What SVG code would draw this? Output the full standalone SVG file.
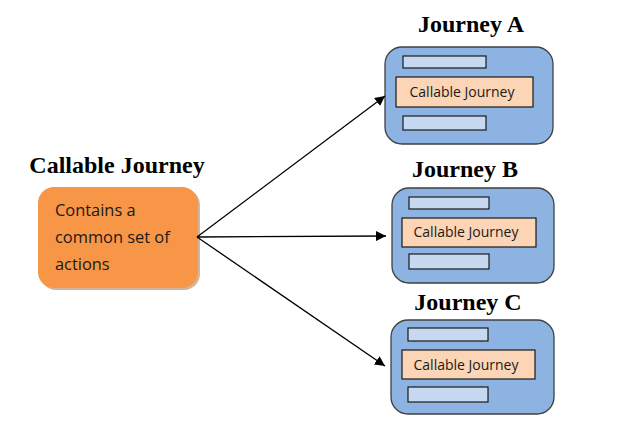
<svg xmlns="http://www.w3.org/2000/svg" width="638" height="437" viewBox="0 0 638 437">
<style>
.title{font-family:"Liberation Serif","Times New Roman",serif;font-weight:bold;font-size:24px;fill:#000;text-anchor:middle}
.body{font-family:"Open Sans","Liberation Sans",sans-serif;font-size:16.4px;fill:#1a1a1a}
.inner{font-family:"Open Sans","Liberation Sans",sans-serif;font-size:14px;fill:#1a1a1a;text-anchor:middle}
.outer{fill:#8DB3E2;stroke:#404040;stroke-width:1.3}
.bar{fill:#C6D9F1;stroke:#1a1a1a;stroke-width:1.2}
.cj{fill:#FBD5B5;stroke:#1a1a1a;stroke-width:1.2}
.conn{stroke:#000;stroke-width:1.3;fill:none;marker-end:url(#ah)}
</style>
<defs>
<marker id="ah" viewBox="0 0 10 10" refX="10" refY="5" markerWidth="10" markerHeight="10" markerUnits="userSpaceOnUse" orient="auto">
<path d="M0,0 L10,5 L0,10 z" fill="#000"/>
</marker>
</defs>
<rect width="638" height="437" fill="#fff"/>
<g id="callable">
<text class="title" x="117" y="173">Callable Journey</text>
<rect x="40" y="189" width="160" height="101" rx="16" fill="#C9A182" opacity="0.8"/>
<rect x="38" y="187" width="160" height="101" rx="16" fill="#F79646"/>
<text class="body" x="55" y="216">Contains a</text>
<text class="body" x="55" y="243">common set of</text>
<text class="body" x="55" y="270">actions</text>
</g>
<g id="journeyA">
<text class="title" x="471" y="32">Journey A</text>
<rect class="outer" x="385" y="47" width="168" height="97" rx="17"/>
<rect class="bar" x="403" y="56" width="83" height="12"/>
<rect class="cj" x="396" y="77" width="137" height="30"/>
<text class="inner" x="462" y="97">Callable Journey</text>
<rect class="bar" x="403" y="116" width="83" height="14"/>
</g>
<g id="journeyB">
<text class="title" x="465" y="177">Journey B</text>
<rect class="outer" x="392" y="188" width="162" height="95" rx="17"/>
<rect class="bar" x="409" y="197" width="80" height="12"/>
<rect class="cj" x="402" y="218" width="134" height="29"/>
<text class="inner" x="466" y="237">Callable Journey</text>
<rect class="bar" x="409" y="254" width="80" height="15"/>
</g>
<g id="journeyC">
<text class="title" x="468" y="310">Journey C</text>
<rect class="outer" x="391" y="320" width="163" height="94" rx="17"/>
<rect class="bar" x="408" y="328" width="80" height="13"/>
<rect class="cj" x="402" y="350" width="133" height="29"/>
<text class="inner" x="466" y="370">Callable Journey</text>
<rect class="bar" x="408" y="387" width="80" height="15"/>
</g>
<g id="connectors">
<line class="conn" x1="197" y1="237" x2="385" y2="96"/>
<line class="conn" x1="197" y1="237" x2="386" y2="236"/>
<line class="conn" x1="197" y1="237" x2="385" y2="366"/>
</g>
</svg>
